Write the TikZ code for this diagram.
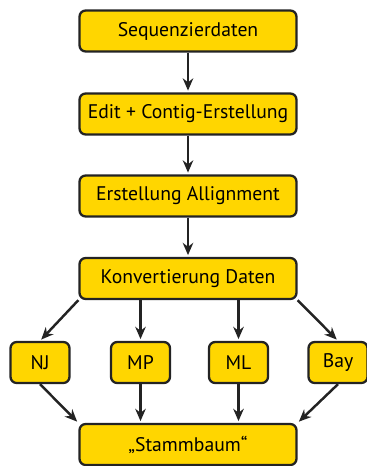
\documentclass[tikz,border=0pt]{standalone}
\usepackage{fontspec}
\setmainfont{PT Sans}
\usetikzlibrary{arrows.meta}

\definecolor{boxyellow}{RGB}{255,214,0}
\definecolor{boxline}{RGB}{35,35,35}

\begin{document}
\begin{tikzpicture}[x=0.02cm,y=-0.02cm,
 bigbox/.style={draw=boxline,fill=boxyellow,line width=1.3pt,rounded corners=3.5pt,
   minimum width=4.34cm,minimum height=0.82cm,font=\fontsize{11.2}{13}\selectfont},
 smallbox/.style={bigbox,minimum width=1.18cm},
 flow/.style={-{Stealth[length=7pt,width=6pt]},line width=1.4pt,draw=boxline,shorten >=1pt}]

\useasboundingbox (0,0) rectangle (367,466);

 \node [bigbox] (seq) at (188,31) {Sequenzierdaten};
 \node [bigbox] (edit) at (188,114) {Edit + Contig-Erstellung};
 \node [bigbox] (ali) at (188,196) {Erstellung Allignment};
 \node [bigbox] (konv) at (188,278.5) {Konvertierung Daten};

 \node [smallbox] (nj) at (40,362.5) {NJ};
 \node [smallbox] (mp) at (140.5,362.5) {MP};
 \node [smallbox] (ml) at (238.5,362.5) {ML};
 \node [smallbox] (bay) at (338,362.5) {Bay};

 \node [bigbox] (stamm) at (188,444.5) {„Stammbaum“};

 \draw [flow] (seq) -- (edit);
 \draw [flow] (edit) -- (ali);
 \draw [flow] (ali) -- (konv);

 \draw [flow] (konv.south west) -- (nj.north);
 \draw [flow] (konv.south -| mp) -- (mp);
 \draw [flow] (konv.south -| ml) -- (ml);
 \draw [flow] (konv.south east) -- (bay.north);

 \draw [flow] (nj.south) -- (stamm.north west);
 \draw [flow] (mp) -- (stamm.north -| mp);
 \draw [flow] (ml) -- (stamm.north -| ml);
 \draw [flow] (bay.south) -- (stamm.north east);

\end{tikzpicture}
\end{document}
